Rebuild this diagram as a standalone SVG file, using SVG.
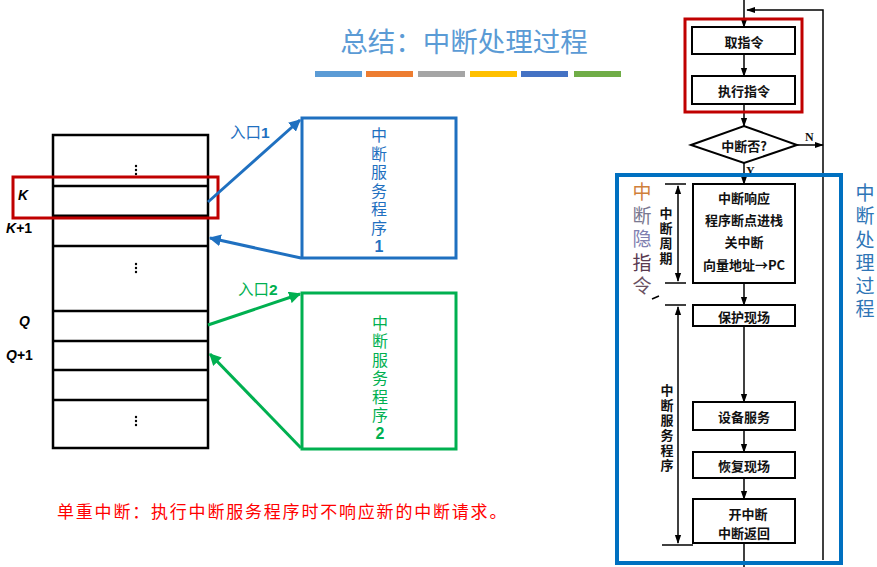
<svg xmlns="http://www.w3.org/2000/svg" width="877" height="567" viewBox="0 0 877 567">
<style>
.cn{font-family:"Noto Sans CJK SC","Liberation Sans",sans-serif}
.lbl{font-family:"Liberation Sans","Noto Sans CJK SC",sans-serif;font-weight:bold;font-style:italic;font-size:14px;fill:#000}
.tb{fill:#fff;stroke:#000;stroke-width:2.5}
.fb{fill:#fff;stroke:#000;stroke-width:2}
.ft{font-family:"Noto Sans CJK SC",sans-serif;font-weight:bold;font-size:13px;fill:#111;text-anchor:middle;dominant-baseline:central}
.fl{stroke:#000;stroke-width:1.5;fill:none}
.vt{writing-mode:vertical-rl;text-orientation:upright}
</style>
<defs>
<marker id="ab" viewBox="0 0 10 10" refX="9" refY="5" markerWidth="4" markerHeight="4" orient="auto"><path d="M0,0 L10,5 L0,10 z" fill="#1f70c0"/></marker>
<marker id="ag" viewBox="0 0 10 10" refX="9" refY="5" markerWidth="4" markerHeight="4" orient="auto"><path d="M0,0 L10,5 L0,10 z" fill="#00b050"/></marker>
<marker id="ak" viewBox="0 0 10 10" refX="9" refY="5" markerWidth="6" markerHeight="6" orient="auto"><path d="M0,1.5 L10,5 L0,8.5 z" fill="#000"/></marker>
<marker id="aks" viewBox="0 0 10 10" refX="1" refY="5" markerWidth="6" markerHeight="6" orient="auto"><path d="M10,1.5 L0,5 L10,8.5 z" fill="#000"/></marker>
</defs>

<!-- title -->
<g id="title">
<text x="464" y="52" class="cn" font-size="27.5" fill="#5b9bd5" text-anchor="middle">总结：中断处理过程</text>
<rect x="315" y="71" width="47" height="6" fill="#5b9bd5"/>
<rect x="366" y="71" width="47" height="6" fill="#ed7d31"/>
<rect x="418" y="71" width="47" height="6" fill="#a5a5a5"/>
<rect x="470" y="71" width="47" height="6" fill="#ffc000"/>
<rect x="521" y="71" width="47" height="6" fill="#4472c4"/>
<rect x="574" y="71" width="47" height="6" fill="#70ad47"/>
</g>

<!-- memory table -->
<g id="table">
<rect x="53" y="135" width="155" height="313" class="tb"/>
<line x1="53" y1="186" x2="208" y2="186" stroke="#000" stroke-width="2.5"/>
<line x1="53" y1="216" x2="208" y2="216" stroke="#000" stroke-width="3"/>
<line x1="53" y1="246" x2="208" y2="246" stroke="#000" stroke-width="2.5"/>
<line x1="53" y1="311" x2="208" y2="311" stroke="#000" stroke-width="2.5"/>
<line x1="53" y1="341" x2="208" y2="341" stroke="#000" stroke-width="2.5"/>
<line x1="53" y1="370" x2="208" y2="370" stroke="#000" stroke-width="2.5"/>
<line x1="53" y1="400" x2="208" y2="400" stroke="#000" stroke-width="2.5"/>
<g fill="#000">
<circle cx="136" cy="166" r="1.2"/><circle cx="136" cy="170" r="1.2"/><circle cx="136" cy="174" r="1.2"/>
<circle cx="136" cy="264" r="1.2"/><circle cx="136" cy="268" r="1.2"/><circle cx="136" cy="272" r="1.2"/>
<circle cx="136" cy="417" r="1.2"/><circle cx="136" cy="421" r="1.2"/><circle cx="136" cy="425" r="1.2"/>
</g>
<text x="18" y="200" class="lbl">K</text>
<text x="6" y="233" class="lbl">K<tspan font-style="normal">+1</tspan></text>
<text x="19" y="326" class="lbl">Q</text>
<text x="6" y="360" class="lbl">Q<tspan font-style="normal">+1</tspan></text>
</g>
<g id="kbox"><rect x="13" y="177" width="205" height="41" fill="none" stroke="#c00000" stroke-width="3"/></g>

<!-- service routine 1 -->
<g id="isr1">
<rect x="302" y="118" width="154" height="140" fill="#fff" stroke="#1f70c0" stroke-width="3"/>
<text x="379" y="127" class="cn vt" font-size="16" letter-spacing="2.5" fill="#1f70c0">中断服务程序<tspan font-family="Liberation Sans" font-weight="bold">1</tspan></text>
</g>

<!-- service routine 2 -->
<g id="isr2">
<rect x="302" y="293" width="154" height="156" fill="#fff" stroke="#00b050" stroke-width="3"/>
<text x="380" y="315" class="cn vt" font-size="16" letter-spacing="2.4" fill="#00b050">中断服务程序<tspan font-family="Liberation Sans" font-weight="bold">2</tspan></text>
</g>

<!-- connectors left -->
<g id="connectors-left">
<line x1="208" y1="202" x2="300" y2="120" stroke="#1f70c0" stroke-width="3" marker-end="url(#ab)"/>
<line x1="301" y1="258" x2="210" y2="238" stroke="#1f70c0" stroke-width="3" marker-end="url(#ab)"/>
<line x1="208" y1="325" x2="300" y2="294" stroke="#00b050" stroke-width="3" marker-end="url(#ag)"/>
<line x1="301" y1="448" x2="210" y2="354" stroke="#00b050" stroke-width="3" marker-end="url(#ag)"/>
<text x="230" y="138" class="cn" font-size="15.5" fill="#1f70c0">入口<tspan font-family="Liberation Sans" font-weight="bold">1</tspan></text>
<text x="238" y="295" class="cn" font-size="15.5" fill="#00b050">入口<tspan font-family="Liberation Sans" font-weight="bold">2</tspan></text>
</g>

<!-- bottom note -->
<g id="note"><text x="57" y="518" class="cn" font-size="17" fill="#ff0000" letter-spacing="1.8">单重中断：执行中断服务程序时不响应新的中断请求。</text></g>

<!-- flowchart connectors -->
<g id="flow-connectors">
<line x1="744" y1="0" x2="744" y2="27" class="fl" marker-end="url(#ak)"/>
<polyline points="823,145 823,10 747,10" class="fl" marker-end="url(#ak)"/>
<line x1="744" y1="54" x2="744" y2="76" class="fl" marker-end="url(#ak)"/>
<line x1="744" y1="104" x2="744" y2="126" class="fl" marker-end="url(#ak)"/>
<line x1="797" y1="145" x2="823" y2="145" class="fl" marker-end="url(#ak)"/>
<line x1="823" y1="145" x2="823" y2="560" class="fl"/>
<line x1="744" y1="163" x2="744" y2="184" class="fl" marker-end="url(#ak)"/>
<line x1="744" y1="283" x2="744" y2="305" class="fl" marker-end="url(#ak)"/>
<line x1="744" y1="326" x2="744" y2="402" class="fl" marker-end="url(#ak)"/>
<line x1="744" y1="430" x2="744" y2="452" class="fl" marker-end="url(#ak)"/>
<line x1="744" y1="478" x2="744" y2="499" class="fl" marker-end="url(#ak)"/>
<line x1="744" y1="543" x2="744" y2="567" class="fl"/>
<!-- dimension lines -->
<line x1="665" y1="184" x2="686" y2="184" class="fl"/>
<line x1="665" y1="283" x2="686" y2="283" class="fl" stroke-width="2"/>
<line x1="678" y1="186" x2="678" y2="281" class="fl" stroke-width="1" marker-start="url(#aks)" marker-end="url(#ak)"/>
<line x1="665" y1="305" x2="686" y2="305" class="fl" stroke-width="2"/>
<line x1="678" y1="307" x2="678" y2="543" class="fl" stroke-width="1" marker-start="url(#aks)" marker-end="url(#ak)"/>
<line x1="662" y1="545" x2="693" y2="545" class="fl" stroke="#555"/>
<line x1="652" y1="299" x2="659" y2="296" class="fl"/>
<text x="805" y="141" font-family="Liberation Serif" font-weight="bold" font-size="12" fill="#111">N</text>
<text x="746" y="175" font-family="Liberation Serif" font-weight="bold" font-size="12" fill="#111">Y</text>
</g>

<!-- flowchart nodes -->
<g id="fetch"><rect x="692" y="27" width="103" height="27" class="fb"/><text x="744" y="41" class="ft">取指令</text></g>
<g id="exec"><rect x="692" y="76" width="103" height="28" class="fb"/><text x="744" y="90" class="ft">执行指令</text></g>
<g id="fe-box"><rect x="685" y="19" width="117" height="93" fill="none" stroke="#c00000" stroke-width="3"/></g>
<g id="decide"><polygon points="691,145 744,126 797,145 744,163" class="fb"/><text x="744" y="145" class="ft">中断否?</text></g>
<g id="respond"><rect x="693" y="184" width="102" height="99" class="fb"/>
<text x="744" y="197" class="ft">中断响应</text><text x="744" y="219" class="ft">程序断点进栈</text><text x="744" y="241" class="ft">关中断</text><text x="744" y="264" class="ft">向量地址→PC</text></g>
<g id="save"><rect x="693" y="305" width="102" height="21" class="fb"/><text x="744" y="316" class="ft">保护现场</text></g>
<g id="service"><rect x="693" y="402" width="102" height="28" class="fb"/><text x="744" y="416" class="ft">设备服务</text></g>
<g id="restore"><rect x="693" y="452" width="102" height="26" class="fb"/><text x="744" y="465" class="ft">恢复现场</text></g>
<g id="ret"><rect x="693" y="499" width="102" height="44" class="fb"/><text x="748" y="513" class="ft">开中断</text><text x="744" y="532" class="ft">中断返回</text></g>

<g id="dim-labels" font-family="Noto Sans CJK SC" font-weight="bold" font-size="13" fill="#111">
<text x="666" y="206.5" class="vt" letter-spacing="2">中断周期</text>
<text x="667" y="383.5" class="vt" letter-spacing="2">中断服务程序</text>
</g>

<!-- blue handling frame -->
<g id="handling"><rect x="617" y="175" width="224" height="388" fill="none" stroke="#0070c0" stroke-width="4"/>
<text x="642" y="182.5" class="cn vt" font-size="19" letter-spacing="4.5"><tspan fill="#d0803a">中</tspan><tspan fill="#7a7890">断</tspan><tspan fill="#8080b0">隐</tspan><tspan fill="#5a3a50">指</tspan><tspan fill="#6a5060">令</tspan></text>
<text x="865" y="183.5" class="cn vt" font-size="19" letter-spacing="4.2" fill="#2e75b6">中断处理过程</text>
</g>
</svg>
